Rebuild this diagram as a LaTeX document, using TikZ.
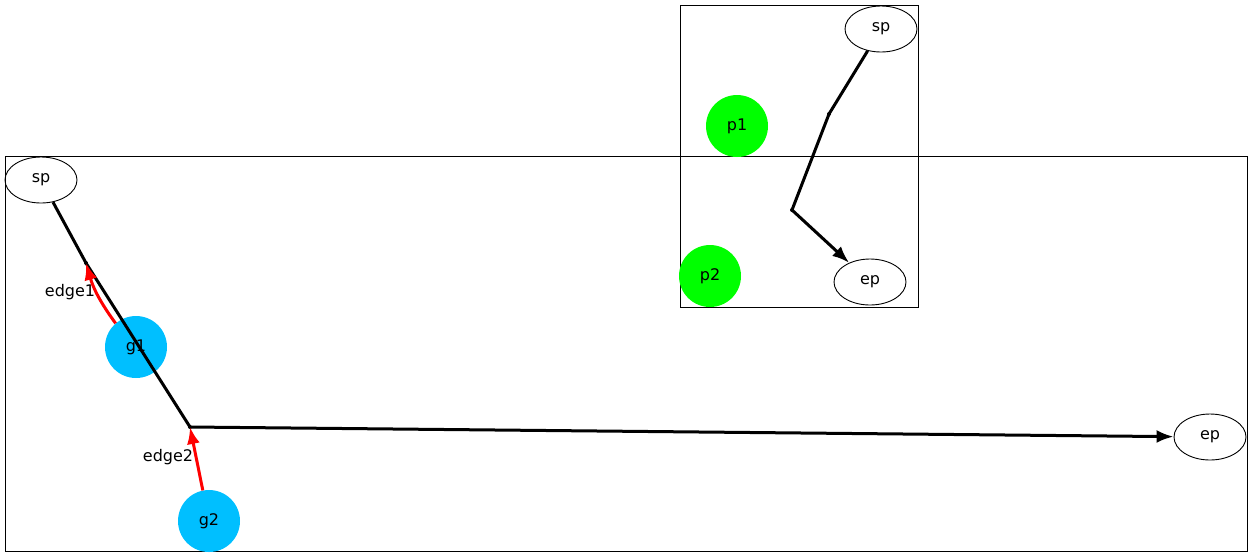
\documentclass[tikz,border=0pt]{standalone}
\usepackage{fontspec}
\setmainfont{DejaVu Sans}
\usetikzlibrary{arrows.meta,shapes.geometric}
\definecolor{skyblue}{RGB}{0,191,255}
\tikzset{
  endpt/.style={draw,line width=0.9pt,ellipse,minimum width=72pt,minimum height=46pt,inner sep=0pt},
  grp/.style={circle,fill=skyblue,minimum size=62pt,inner sep=0pt},
  pnt/.style={circle,fill=green,minimum size=62pt,inner sep=0pt},
  dot/.style={circle,fill=black,minimum size=4pt,inner sep=0pt},
  edge/.style={line width=3pt},
  link/.style={line width=3pt,red},
  tip/.style={-{Latex[length=17pt,width=13pt]}},
  lbl/.style={font=\fontsize{16}{18}\selectfont}
}
\begin{document}
\begin{tikzpicture}[x=1pt,y=-1pt,font=\fontsize{16}{18}\selectfont]
        \useasboundingbox (0,0) rectangle (1252,558);
        \draw[line width=0.9pt] (5,156) rectangle (1247,551);
        \draw[line width=0.9pt] (680,5) rectangle (918,307);
        % big cluster
        \node[endpt] (sp) at (41,180) {sp};
        \node[endpt] (ep) at (1210,437) {ep};
        \node[grp] (g1) at (136,347) {g1};
        \node[grp] (g2) at (209,521) {g2};
        \node[dot] (e1) at (86,263) {};
        \node[dot] (e2) at (190,427) {};
        \node[lbl] at (70,292) {edge1};
        \node[lbl] at (168,457) {edge2};
        \draw[edge] (sp) -- (e1.center) -- (e2.center);
        \draw[edge,tip] (e2.center) -- (ep);
        \draw[link,tip] (g1) to[bend left=10] (e1.center);
        \draw[link,tip] (g2) -- (e2.center);
        % small cluster
        \node[endpt] (sp2) at (881,29) {sp};
        \node[endpt] (ep2) at (870,282) {ep};
        \node[pnt] (p1) at (737,126) {p1};
        \node[pnt] (p2) at (710,276) {p2};
        \node[dot] (k1) at (829,114) {};
        \node[dot] (k2) at (792,210) {};
        \draw[edge] (sp2) -- (k1.center) -- (k2.center);
        \draw[edge,tip] (k2.center) -- (ep2);
\end{tikzpicture}
\end{document}
